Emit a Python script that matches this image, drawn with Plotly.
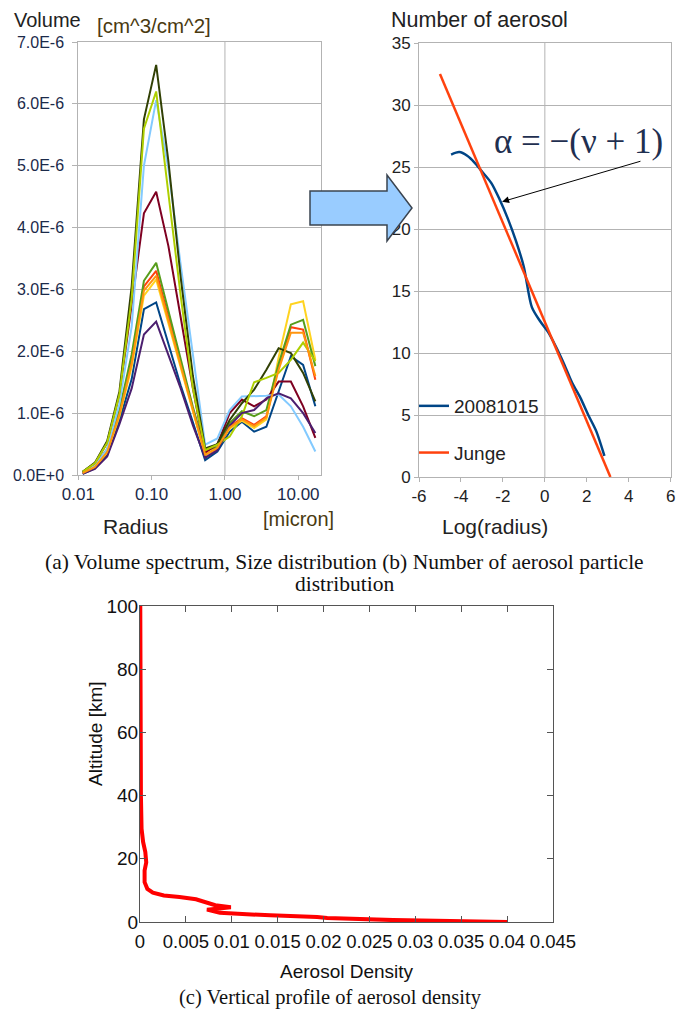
import plotly.graph_objects as go

# page body has an 8px margin, so the figure is sized to the visible window minus it
OFF = 8
W, H = 688 - OFF, 1013 - OFF

# ---------------- Panel (a): volume size distribution ----------------
radius_um = [0.01148, 0.01686, 0.02477, 0.03639, 0.05346, 0.07852, 0.1153, 0.1694,
             0.2489, 0.3656, 0.5370, 0.7889, 1.159, 1.702, 2.500, 3.673, 5.395,
             7.925, 11.64, 17.10]

vol_darkblue = [0.02, 0.11, 0.32, 0.88, 1.55, 2.68, 2.79, 2.10, 1.45, 0.85, 0.24, 0.38, 0.70, 0.86, 0.70, 0.78, 1.35, 1.92, 1.78, 1.11]
vol_red      = [0.03, 0.14, 0.38, 1.00, 1.85, 3.05, 3.30, 2.55, 1.80, 1.05, 0.32, 0.43, 0.78, 0.92, 0.81, 0.95, 1.75, 2.39, 2.35, 1.54]
vol_yellow   = [0.03, 0.13, 0.36, 0.95, 1.75, 2.90, 3.16, 2.45, 1.70, 1.00, 0.32, 0.45, 0.75, 0.88, 0.76, 0.90, 1.90, 2.76, 2.81, 1.86]
vol_green    = [0.04, 0.16, 0.42, 1.05, 1.95, 3.14, 3.43, 2.65, 1.85, 1.10, 0.40, 0.45, 0.84, 1.03, 0.95, 1.05, 1.80, 2.43, 2.51, 1.76]
vol_maroon   = [0.05, 0.19, 0.52, 1.30, 2.75, 4.23, 4.58, 3.70, 2.55, 1.40, 0.36, 0.50, 1.00, 1.22, 1.11, 1.22, 1.51, 1.51, 1.11, 0.60]
vol_lightblue= [0.04, 0.15, 0.42, 1.15, 2.40, 5.00, 6.06, 4.95, 3.40, 1.90, 0.49, 0.59, 1.05, 1.27, 1.27, 1.28, 1.30, 1.11, 0.78, 0.38]
vol_olive    = [0.05, 0.20, 0.55, 1.35, 3.05, 5.75, 6.63, 5.07, 3.20, 1.60, 0.43, 0.50, 0.89, 1.16, 1.38, 1.70, 2.05, 1.97, 1.65, 1.19]
vol_yelgreen = [0.05, 0.19, 0.52, 1.30, 2.85, 5.60, 6.20, 4.50, 2.90, 1.40, 0.40, 0.49, 0.62, 0.95, 1.50, 1.57, 1.65, 1.86, 2.14, 1.84]
vol_purple   = [0.02, 0.10, 0.30, 0.82, 1.40, 2.27, 2.48, 1.95, 1.40, 0.80, 0.28, 0.40, 0.80, 1.00, 1.05, 1.24, 1.32, 1.24, 1.00, 0.68]
vol_orange   = [0.03, 0.13, 0.37, 0.98, 1.80, 2.98, 3.22, 2.50, 1.75, 1.02, 0.33, 0.44, 0.77, 0.90, 0.79, 0.93, 1.70, 2.30, 2.30, 1.60]

vol_series = [vol_darkblue, vol_red, vol_yellow, vol_green, vol_maroon,
              vol_lightblue, vol_olive, vol_yelgreen, vol_purple, vol_orange]
vol_colors = ["#004586", "#ff420e", "#ffd320", "#579d1c", "#7e0021",
              "#83caff", "#314004", "#aecf00", "#4b1f6f", "#ff950e"]
vol_scale = 1e-6

a_yticks = [0, 1e-6, 2e-6, 3e-6, 4e-6, 5e-6, 6e-6, 7e-6]
a_yticktext = ["0.0E+0", "1.0E-6", "2.0E-6", "3.0E-6", "4.0E-6", "5.0E-6", "6.0E-6", "7.0E-6"]
a_xticks = [0.01, 0.1, 1, 10]
a_xticktext = ["0.01", "0.10", "1.00", "10.00"]

# ---------------- Panel (b): number of aerosol vs log(radius) ----------------
ln_radius = [-4.47, -4.08, -3.70, -3.32, -2.93, -2.55, -2.16, -1.78, -1.39, -1.01,
             -0.62, -0.24, 0.15, 0.53, 0.92, 1.30, 1.69, 2.07, 2.45, 2.84]
number_20081015 = [26.0, 26.2, 25.9, 25.3, 24.5, 23.7, 22.4, 20.9, 19.1, 17.0,
                   13.7, 12.6, 11.7, 10.5, 9.1, 7.6, 6.4, 5.0, 3.7, 1.7]
junge_x = [-5.0, 3.125]
junge_y = [32.5, 0.0]
b_xticks = [-6, -4, -2, 0, 2, 4, 6]
b_xticktext = ["-6", "-4", "-2", "0", "2", "4", "6"]

# ---------------- Panel (c): vertical profile ----------------
altitude_km = [0, 0.2, 0.6, 1.3, 1.6, 2.1, 2.5, 2.9, 3.9, 4.7, 5.3, 6.1, 7.2, 7.9,
               8.4, 9.3, 10.5, 12.6, 16.3, 18.9, 22.1, 25.3, 29.5, 40, 60, 80, 100]
aerosol_density = [0.040, 0.0348, 0.0276, 0.0204, 0.0193, 0.0142, 0.0108, 0.0087,
                   0.0073, 0.0099, 0.0082, 0.0073, 0.0061, 0.0043, 0.0026, 0.0014,
                   0.0008, 0.0005, 0.0005, 0.00068, 0.00058, 0.00034, 0.00017,
                   0.0001, 0.00008, 0.00005, 0.00003]


def px(x):
    return (x - OFF) / W


def py(y):
    return 1 - (y - OFF) / H


fig = go.Figure()

for vals, col in zip(vol_series, vol_colors):
    fig.add_trace(go.Scatter(x=radius_um, y=[v * vol_scale for v in vals], mode="lines",
                             line=dict(color=col, width=2), xaxis="x", yaxis="y",
                             showlegend=False, hoverinfo="skip"))

fig.add_trace(go.Scatter(x=ln_radius, y=number_20081015, mode="lines", name="20081015",
                         line=dict(color="#004586", width=2.5, shape="spline", smoothing=0.8),
                         xaxis="x2", yaxis="y2", legendgroup="g1"))
fig.add_trace(go.Scatter(x=junge_x, y=junge_y, mode="lines", name="Junge",
                         line=dict(color="#ff420e", width=2.5),
                         xaxis="x2", yaxis="y2", legendgroup="g2"))

fig.add_trace(go.Scatter(x=aerosol_density, y=altitude_km, mode="lines",
                         line=dict(color="#ff0000", width=4),
                         xaxis="x3", yaxis="y3", showlegend=False))

grid = "#b3b3b3"
sans = "Liberation Sans"
serif = "Liberation Serif"

fig.update_layout(
    width=W, height=H, margin=dict(l=0, r=0, t=0, b=0, autoexpand=False),
    paper_bgcolor="white", plot_bgcolor="white",
    font=dict(family=sans, color="#222"),
    xaxis=dict(domain=[px(78.3), px(321)], anchor="y", type="log", range=[-2, 1.31],
               tickvals=a_xticks, ticktext=a_xticktext, showgrid=False,
               showline=True, mirror=True, linecolor=grid, linewidth=1,
               ticks="outside", ticklen=4, tickcolor=grid, automargin=False,
               tickfont=dict(size=17, color="#1b2a4a"), zeroline=False),
    yaxis=dict(domain=[py(475), py(42)], anchor="x", range=[0, 7e-6],
               tickvals=a_yticks, ticktext=a_yticktext, showgrid=True, gridcolor=grid,
               showline=True, mirror=True, linecolor=grid, linewidth=1,
               ticks="outside", ticklen=5, tickcolor=grid, automargin=False,
               ticklabelstandoff=5,
               tickfont=dict(size=16, color="#1b2a4a"), zeroline=False),
    xaxis2=dict(domain=[px(419), px(670.7)], anchor="y2", range=[-6, 6],
                tickvals=b_xticks, ticktext=b_xticktext,
                showgrid=False, showline=True, mirror=True, linecolor=grid, linewidth=1,
                ticks="outside", ticklen=4, tickcolor=grid, automargin=False,
                tickfont=dict(size=17, color="#222"), zeroline=False),
    yaxis2=dict(domain=[py(477), py(43)], anchor="x2", range=[0, 35], dtick=5,
                showgrid=True, gridcolor=grid, showline=True, mirror=True,
                linecolor=grid, linewidth=1, automargin=False,
                ticks="outside", ticklen=4, tickcolor=grid,
                tickfont=dict(size=17, color="#222"), zeroline=False),
    xaxis3=dict(domain=[px(140), px(553)], anchor="y3", range=[0, 0.045], dtick=0.005,
                showgrid=False, showline=True, mirror="ticks", linecolor="#555",
                linewidth=1, ticks="inside", ticklen=6, tickcolor="#555", automargin=False,
                ticklabelstandoff=3,
                tickfont=dict(size=18.5, color="#111"), zeroline=False),
    yaxis3=dict(domain=[py(922), py(606)], anchor="x3", range=[0, 100], dtick=20,
                showgrid=False, showline=True, mirror="ticks", linecolor="#555",
                linewidth=1, ticks="inside", ticklen=6, tickcolor="#555", automargin=False,
                ticklabelstandoff=-3,
                tickfont=dict(size=19, color="#111"), zeroline=False),
    legend=dict(x=px(414), y=py(387), xanchor="left", yanchor="top",
                bgcolor="rgba(0,0,0,0)", font=dict(size=19, color="#222"),
                tracegroupgap=19, traceorder="grouped"),
    showlegend=True,
)

shapes = [
    # vertical gridline at 1 micron (panel a)
    dict(type="line", xref="x", yref="y domain", x0=1, x1=1, y0=0, y1=1,
         line=dict(color=grid, width=1), layer="below"),
    # vertical gridline at 0 (panel b)
    dict(type="line", xref="x2", yref="y2 domain", x0=0, x1=0, y0=0, y1=1,
         line=dict(color=grid, width=1), layer="below"),
    # block arrow between panels
    dict(type="path", xref="paper", yref="paper",
         path="M {},{} L {},{} L {},{} L {},{} L {},{} L {},{} L {},{} Z".format(
             px(310), py(191), px(387), py(191), px(387), py(175), px(412), py(208),
             px(387), py(241), px(387), py(225), px(310), py(225)),
         fillcolor="#99ccff", line=dict(color="#3a4450", width=1.5), layer="above"),
]
fig.update_layout(shapes=shapes)

ann = [
    dict(text="Volume", x=px(12), y=py(20), xanchor="left", yanchor="middle",
         font=dict(size=20, color="#222", family=sans)),
    dict(text="[cm^3/cm^2]", x=px(95), y=py(26), xanchor="left", yanchor="middle",
         font=dict(size=20.5, color="#4a3a10", family=sans)),
    dict(text="Radius", x=px(135), y=py(526), xanchor="center", yanchor="middle",
         font=dict(size=21, color="#222", family=sans)),
    dict(text="[micron]", x=px(298), y=py(519), xanchor="center", yanchor="middle",
         font=dict(size=20, color="#4a3a10", family=sans)),
    dict(text="Number of aerosol", x=px(389), y=py(20), xanchor="left", yanchor="middle",
         font=dict(size=21.5, color="#222", family=sans)),
    dict(text="Log(radius)", x=px(495), y=py(526), xanchor="center", yanchor="middle",
         font=dict(size=21, color="#222", family=sans)),
    dict(text="α = −(ν + 1)", x=px(578), y=py(142), xanchor="center", yanchor="middle",
         font=dict(size=35, color="#1f2f50", family=serif)),
    dict(text="(a) Volume spectrum, Size distribution (b) Number of aerosol particle",
         x=px(344), y=py(562), xanchor="center", yanchor="middle",
         font=dict(size=21.5, color="#111", family=serif)),
    dict(text="distribution", x=px(344), y=py(584), xanchor="center", yanchor="middle",
         font=dict(size=21.5, color="#111", family=serif)),
    dict(text="Aerosol Density", x=px(347), y=py(971), xanchor="center", yanchor="middle",
         font=dict(size=19, color="#111", family=sans)),
    dict(text="Altitude [km]", x=px(95), y=py(734), xanchor="center", yanchor="middle",
         textangle=-90, font=dict(size=19, color="#111", family=sans)),
    dict(text="(c) Vertical profile of aerosol density", x=px(330), y=py(997),
         xanchor="center", yanchor="middle",
         font=dict(size=20.5, color="#111", family=serif)),
]
for a in ann:
    a.update(xref="paper", yref="paper", showarrow=False)

ann.append(dict(x=-2.04, y=22.2, xref="x2", yref="y2", ax=4.63, ay=25.5,
                axref="x2", ayref="y2", text="", showarrow=True, arrowhead=2,
                arrowsize=1.4, arrowwidth=1, arrowcolor="#000"))
fig.update_layout(annotations=ann)

fig.write_html("out.html")
